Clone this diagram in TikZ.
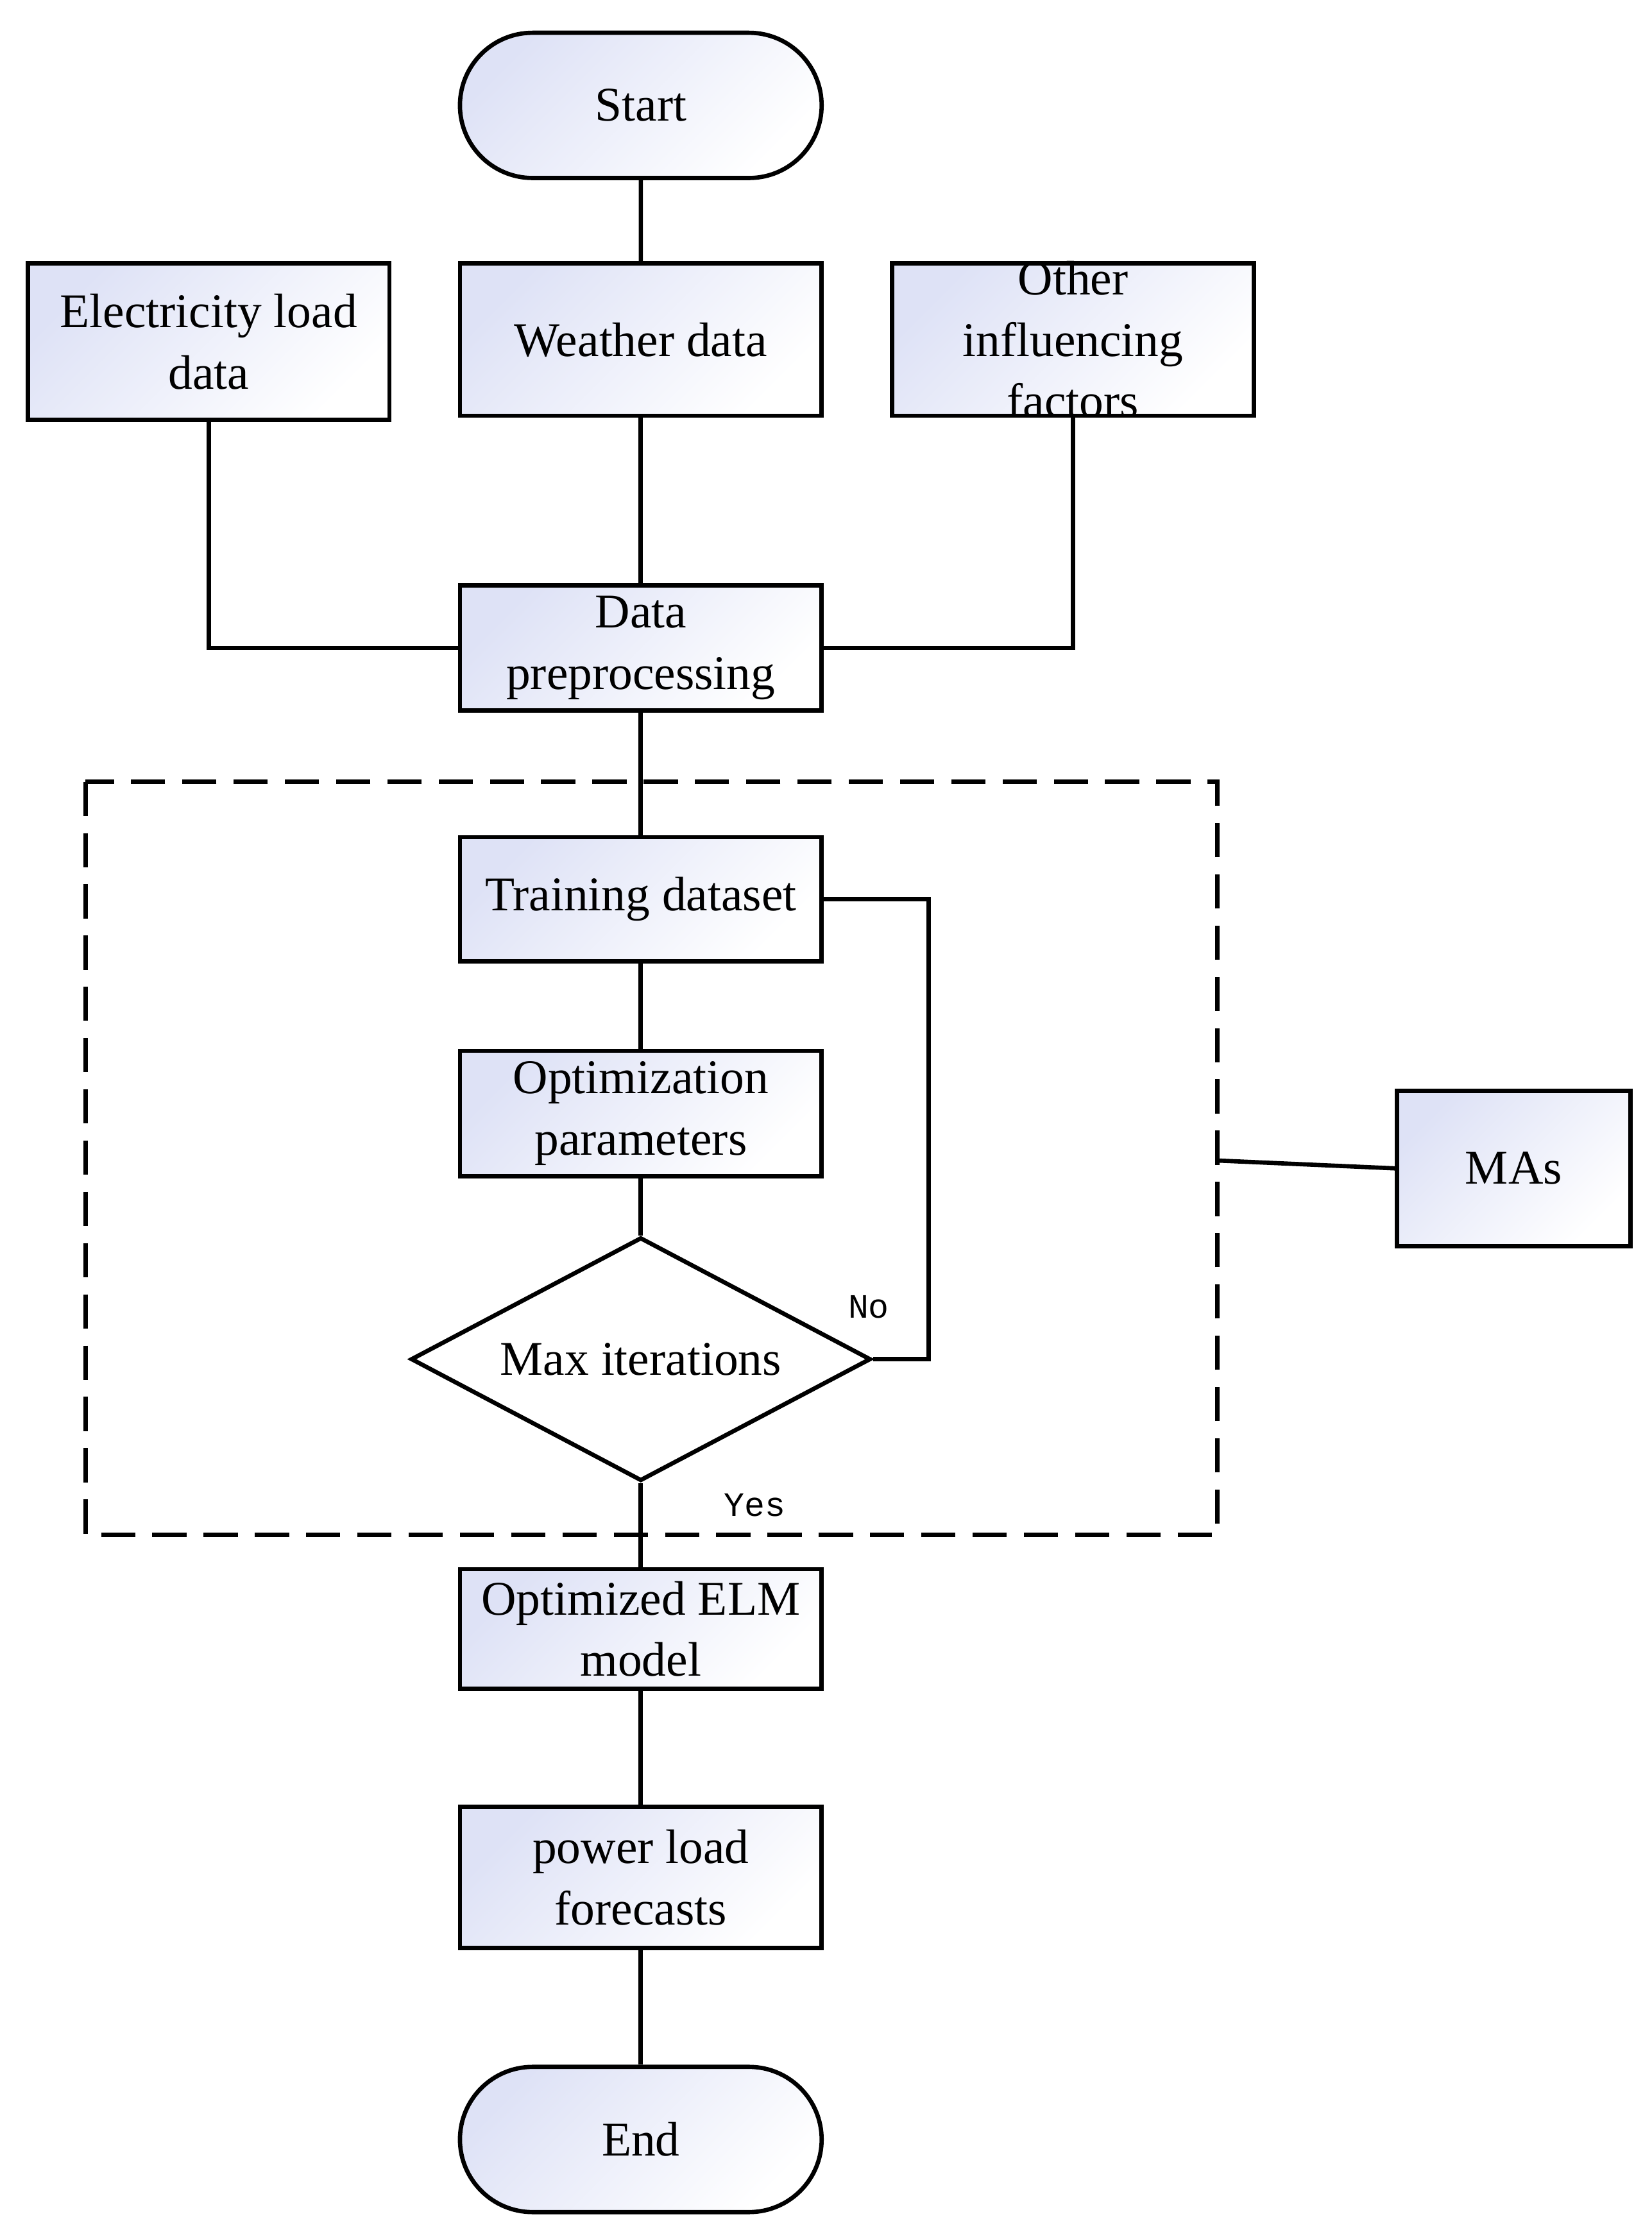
\documentclass[tikz,border=0pt]{standalone}
\usepackage{fontspec}
\setmainfont{Liberation Serif}
\newfontfamily\monof{Liberation Mono}
\usetikzlibrary{shapes.geometric,shapes.misc}
\definecolor{shd}{RGB}{222,226,246}
\begin{document}
\begin{tikzpicture}[x=0.5pt,y=-0.5pt,line width=1.5pt,
  txt/.style={font=\fontsize{17}{21.5}\selectfont,align=center},
  box/.style={draw,rectangle,minimum width=127pt,inner sep=0pt,top color=shd,bottom color=white,shading angle=45,txt},
  term/.style={draw,rounded rectangle,minimum width=127pt,minimum height=51pt,inner sep=0pt,top color=shd,bottom color=white,shading angle=45,txt},
  lab/.style={font=\monof\fontsize{12}{14}\selectfont}]
\useasboundingbox (0,0) rectangle (1160,1571);
\node[term] (start) at (450,74) {Start};
\node[box,minimum height=55pt] (elec) at (146.5,240) {Electricity load\\data};
\node[box,minimum height=53.5pt] (weather) at (450,238.5) {Weather data};
\node[box,minimum height=53.5pt] (other) at (753.5,238.5) {};
\node[txt] at (753.5,238.5) {Other\\influencing\\factors};
\node[box,minimum height=44pt] (pre) at (450,455) {Data\\preprocessing};
\draw[dash pattern=on 12pt off 6pt] (60,549) rectangle (855,1078);
\node[box,minimum height=43.5pt] (train) at (450,631.5) {Training dataset};
\node[box,minimum height=44pt] (opt) at (450,782) {Optimization\\parameters};
\node[draw,diamond,aspect=1.89,inner sep=0pt,minimum width=161.5pt,minimum height=85.5pt,fill=white,txt] (dia) at (450,954.5) {Max iterations};
\node[box,minimum width=82pt,minimum height=54.5pt] (mas) at (1063,820.5) {MAs};
\node[box,minimum height=42pt] (elm) at (450,1144) {Optimized ELM\\model};
\node[box,minimum height=49.5pt] (pow) at (450,1318.5) {power load\\forecasts};
\node[term] (end) at (450,1502.5) {End};
\coordinate (dashR) at (855,815);
\draw (start) -- (weather);
\draw (weather) -- (pre);
\draw (elec.south) |- (pre.west);
\draw (other.south) |- (pre.east);
\draw (pre) -- (train);
\draw (train) -- (opt);
\draw (opt) -- (dia);
\draw (train.east) -- (652,631.5) |- (dia.east);
\draw (dia) -- (elm);
\draw (elm) -- (pow);
\draw (pow) -- (end);
\draw (dashR) -- (mas.west);
\node[lab] at (610,918) {No};
\node[lab] at (530,1057) {Yes};
\end{tikzpicture}
\end{document}
